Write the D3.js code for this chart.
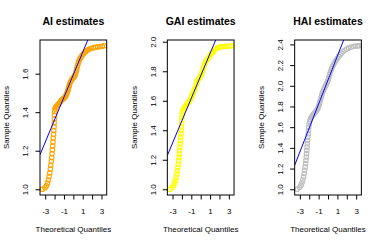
<!DOCTYPE html>
<html>
<head>
<meta charset="utf-8">
<script src="https://cdn.jsdelivr.net/npm/d3@7"></script>
<style>
body { margin: 0; background: #fff; }
svg text { font-family: "Liberation Sans", Arial, Helvetica, sans-serif; fill: #000; }
</style>
</head>
<body>
<div id="chart"></div>
<script>

// Panel titles and point colours
var titles = ["AI estimates", "GAI estimates", "HAI estimates"];
var colors = ["#ffa500", "#ffff00", "#bebebe"];

// x tick values (theoretical quantiles)
var xTicks = [-3, -2, -1, 0, 1, 2, 3];

// y tick values for each panel
var yTicksAI  = [1.0, 1.2, 1.4, 1.6];
var yTicksGAI = [1.0, 1.2, 1.4, 1.6, 1.8, 2.0];
var yTicksHAI = [1.0, 1.2, 1.4, 1.6, 1.8, 2.0, 2.2, 2.4];

// [theoretical quantile, sample quantile]
var aiPoints = [
	[-3.29,1.000],[-3.02,1.007],[-2.86,1.018],[-2.75,1.032],[-2.66,1.048],[-2.58,1.066],
	[-2.51,1.085],[-2.45,1.105],[-2.40,1.125],[-2.35,1.145],[-2.31,1.165],[-2.27,1.185],
	[-2.23,1.205],[-2.20,1.225],[-2.17,1.245],[-2.14,1.265],[-2.11,1.285],[-2.08,1.305],
	[-2.06,1.325],[-2.04,1.345],[-2.02,1.365],[-2.00,1.385],[-1.98,1.402],[-1.95,1.415],
	[-1.91,1.424],[-1.85,1.428],[-1.77,1.432],[-1.69,1.436],[-1.61,1.440],[-1.53,1.445],
	[-1.45,1.450],[-1.37,1.455],[-1.29,1.461],[-1.21,1.465],[-1.13,1.468],[-1.05,1.471],
	[-0.97,1.474],[-0.89,1.478],[-0.82,1.484],[-0.76,1.490],[-0.70,1.496],[-0.65,1.503],
	[-0.60,1.511],[-0.55,1.519],[-0.50,1.527],[-0.45,1.536],[-0.40,1.545],[-0.34,1.554],
	[-0.27,1.561],[-0.19,1.567],[-0.11,1.572],[-0.03,1.577],[0.05,1.582],[0.13,1.588],
	[0.20,1.595],[0.26,1.604],[0.31,1.614],[0.36,1.624],[0.41,1.634],[0.46,1.644],
	[0.51,1.654],[0.57,1.663],[0.64,1.671],[0.72,1.678],[0.81,1.685],[0.90,1.692],
	[1.00,1.699],[1.10,1.705],[1.21,1.711],[1.33,1.716],[1.46,1.721],[1.60,1.725],
	[1.76,1.729],[1.94,1.732],[2.14,1.735],[2.36,1.737],[2.60,1.739],[2.86,1.741],
	[3.08,1.742],[3.29,1.745]
];

var gaiPoints = [
	[-3.29,1.000],[-3.03,1.012],[-2.88,1.027],[-2.77,1.043],[-2.68,1.062],[-2.60,1.082],
	[-2.54,1.103],[-2.48,1.125],[-2.43,1.147],[-2.39,1.170],[-2.35,1.193],[-2.31,1.216],
	[-2.28,1.239],[-2.25,1.262],[-2.22,1.285],[-2.19,1.308],[-2.16,1.331],[-2.13,1.354],
	[-2.10,1.377],[-2.08,1.400],[-2.06,1.423],[-2.04,1.446],[-2.02,1.468],[-2.00,1.490],
	[-1.97,1.509],[-1.93,1.525],[-1.87,1.537],[-1.80,1.546],[-1.72,1.553],[-1.64,1.560],
	[-1.56,1.567],[-1.48,1.575],[-1.40,1.582],[-1.32,1.588],[-1.24,1.594],[-1.16,1.602],
	[-1.08,1.612],[-1.00,1.622],[-0.93,1.633],[-0.86,1.644],[-0.79,1.655],[-0.72,1.666],
	[-0.65,1.677],[-0.58,1.688],[-0.51,1.700],[-0.45,1.713],[-0.39,1.726],[-0.32,1.737],
	[-0.24,1.745],[-0.16,1.752],[-0.08,1.760],[0.00,1.768],[0.07,1.777],[0.13,1.788],
	[0.19,1.800],[0.25,1.812],[0.31,1.825],[0.37,1.838],[0.43,1.851],[0.50,1.861],
	[0.58,1.869],[0.67,1.876],[0.76,1.884],[0.86,1.893],[0.96,1.903],[1.07,1.913],
	[1.18,1.922],[1.30,1.930],[1.43,1.940],[1.58,1.950],[1.74,1.957],[1.92,1.962],
	[2.12,1.965],[2.36,1.967],[2.62,1.969],[2.88,1.970],[3.10,1.971],[3.29,1.973]
];

var haiPoints = [
	[-3.29,1.000],[-3.03,1.017],[-2.88,1.038],[-2.77,1.063],[-2.68,1.090],[-2.60,1.120],
	[-2.54,1.152],[-2.48,1.184],[-2.43,1.216],[-2.39,1.248],[-2.35,1.280],[-2.32,1.312],
	[-2.29,1.344],[-2.26,1.376],[-2.23,1.408],[-2.20,1.440],[-2.17,1.472],[-2.14,1.504],
	[-2.11,1.536],[-2.08,1.568],[-2.05,1.600],[-2.01,1.630],[-1.96,1.655],[-1.89,1.675],
	[-1.81,1.690],[-1.72,1.704],[-1.62,1.716],[-1.52,1.727],[-1.42,1.738],[-1.32,1.749],
	[-1.22,1.761],[-1.13,1.774],[-1.05,1.789],[-0.98,1.806],[-0.92,1.825],[-0.86,1.845],
	[-0.80,1.866],[-0.74,1.887],[-0.67,1.908],[-0.60,1.928],[-0.52,1.947],[-0.44,1.964],
	[-0.35,1.982],[-0.26,2.000],[-0.17,2.016],[-0.08,2.032],[0.00,2.050],[0.06,2.070],
	[0.12,2.090],[0.18,2.110],[0.25,2.130],[0.32,2.150],[0.40,2.168],[0.49,2.186],
	[0.58,2.203],[0.68,2.220],[0.79,2.236],[0.90,2.252],[1.02,2.268],[1.15,2.285],
	[1.29,2.300],[1.44,2.315],[1.60,2.329],[1.78,2.343],[1.98,2.355],[2.20,2.366],
	[2.44,2.375],[2.70,2.380],[2.96,2.384],[3.15,2.385],[3.29,2.387]
];

// reference lines (intercept, slope)
var aiLine  = [1.595, 0.117];
var gaiLine = [1.769, 0.152];
var haiLine = [2.056, 0.232];

var panels = [
	{ title: titles[0], color: colors[0], points: aiPoints,  line: aiLine,  yTicks: yTicksAI },
	{ title: titles[1], color: colors[1], points: gaiPoints, line: gaiLine, yTicks: yTicksGAI },
	{ title: titles[2], color: colors[2], points: haiPoints, line: haiLine, yTicks: yTicksHAI }
];

var totalWidth = 382, totalHeight = 245;
var panelWidth = totalWidth / 3;
var box = { left: 40, right: 106.7, top: 40, bottom: 195 };

var svg = d3.select("#chart").append("svg")
		.attr("width", totalWidth)
		.attr("height", totalHeight);

// R-style axis range: data extent padded by 4% each side
function padExtent(values) {
	var ext = d3.extent(values);
	var pad = (ext[1] - ext[0]) * 0.04;
	return [ext[0] - pad, ext[1] + pad];
}

panels.forEach(function(p, i) {
	var g = svg.append("g")
		.attr("transform", "translate(" + (i * panelWidth) + ",0)");

	var x = d3.scaleLinear()
		.domain(padExtent(p.points.map(function(d) { return d[0]; })))
		.range([box.left, box.right]);

	var y = d3.scaleLinear()
		.domain(padExtent(p.points.map(function(d) { return d[1]; })))
		.range([box.bottom, box.top]);

	// clip for the reference line
	g.append("defs").append("clipPath")
		.attr("id", "clip" + i)
		.append("rect")
		.attr("x", box.left)
		.attr("y", box.top)
		.attr("width", box.right - box.left)
		.attr("height", box.bottom - box.top);

	// points
	g.append("g").selectAll("circle")
		.data(p.points)
		.enter().append("circle")
		.attr("cx", function(d) { return x(d[0]); })
		.attr("cy", function(d) { return y(d[1]); })
		.attr("r", 2.25)
		.attr("fill", "none")
		.attr("stroke", p.color)
		.attr("stroke-width", 1.1);

	// qq line
	var xd = x.domain();
	g.append("line")
		.attr("clip-path", "url(#clip" + i + ")")
		.attr("x1", x(xd[0]))
		.attr("y1", y(p.line[0] + p.line[1] * xd[0]))
		.attr("x2", x(xd[1]))
		.attr("y2", y(p.line[0] + p.line[1] * xd[1]))
		.attr("stroke", "#0000ff")
		.attr("stroke-width", 1);

	// box
	g.append("rect")
		.attr("x", box.left)
		.attr("y", box.top)
		.attr("width", box.right - box.left)
		.attr("height", box.bottom - box.top)
		.attr("fill", "none")
		.attr("stroke", "#000")
		.attr("stroke-width", 1);

	// x axis
	var xAxis = d3.axisBottom(x)
		.tickValues(xTicks)
		.tickSize(4.5)
		.tickPadding(8.8)
		.tickFormat(function(d) { return (d % 2) ? String(d) : ""; });

	var gx = g.append("g")
		.attr("transform", "translate(0," + box.bottom + ")")
		.call(xAxis);
	gx.select(".domain").remove();
	gx.selectAll("text")
		.style("font-size", "8px")
		.style("font-family", "'Liberation Sans', Arial, sans-serif");

	// y axis with vertical labels
	var yAxis = d3.axisLeft(y)
		.tickValues(p.yTicks)
		.tickSize(4.5)
		.tickFormat(d3.format(".1f"));

	var gy = g.append("g")
		.attr("transform", "translate(" + box.left + ",0)")
		.call(yAxis);
	gy.select(".domain").remove();
	gy.selectAll("text")
		.attr("transform", "rotate(-90)")
		.attr("x", 0)
		.attr("y", -11.8)
		.attr("dy", 0)
		.style("text-anchor", "middle")
		.style("font-size", "8px")
		.style("font-family", "'Liberation Sans', Arial, sans-serif");

	// title
	g.append("text")
		.attr("x", (box.left + box.right) / 2)
		.attr("y", 24.5)
		.attr("text-anchor", "middle")
		.style("font-size", "10.5px")
		.style("font-weight", "bold")
		.text(p.title);

	// axis titles
	g.append("text")
		.attr("x", (box.left + box.right) / 2)
		.attr("y", 232.3)
		.attr("text-anchor", "middle")
		.style("font-size", "8px")
		.text("Theoretical Quantiles");

	g.append("text")
		.attr("transform", "translate(9.3," + ((box.top + box.bottom) / 2) + ") rotate(-90)")
		.attr("text-anchor", "middle")
		.style("font-size", "8px")
		.text("Sample Quantiles");
});

</script>
</body>
</html>
